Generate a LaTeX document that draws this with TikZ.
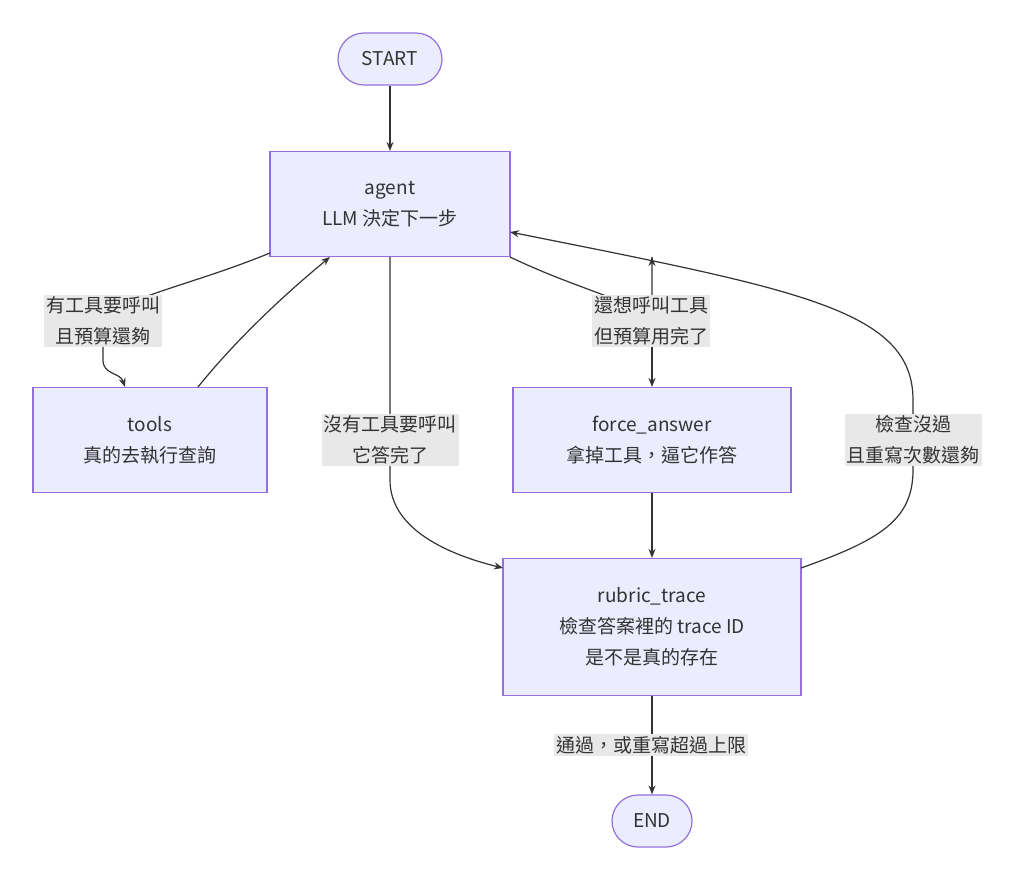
\documentclass[tikz,border=0pt]{standalone}
\usepackage{fontspec}
\setmainfont{Liberation Sans}
\newfontfamily\cjk{Noto Sans CJK TC}
\usetikzlibrary{arrows.meta}
\definecolor{nfill}{HTML}{ECECFF}
\definecolor{nline}{HTML}{9370DB}
\definecolor{ink}{HTML}{333333}
\definecolor{lbg}{HTML}{E8E8E8}
\begin{document}
\begin{tikzpicture}[x=1pt,y=-1pt,
  box/.style={draw=nline,fill=nfill,line width=1.2pt,text=ink,align=center,font=\cjk\fontsize{19}{31}\selectfont,inner sep=0pt},
  pill/.style={box,rounded corners=26pt},
  lab/.style={fill=lbg,text=ink,align=center,font=\cjk\fontsize{19}{31}\selectfont,inner sep=2pt},
  edge/.style={draw=ink,line width=1.2pt,-{Stealth[length=9pt,width=7pt]}}]
\useasboundingbox (0,0) rectangle (1024,890);
\node[pill,minimum width=104pt,minimum height=52pt] (start) at (390,59) {START};
\node[box,minimum width=240pt,minimum height=105pt] (agent) at (390,204) {agent\\LLM 決定下一步};
\node[box,minimum width=234pt,minimum height=105pt] (tools) at (150,440) {tools\\真的去執行查詢};
\node[box,minimum width=278pt,minimum height=105pt] (force) at (652,440) {force\_answer\\拿掉工具，逼它作答};
\node[box,minimum width=298pt,minimum height=137pt] (rubric) at (652,627) {rubric\_trace\\檢查答案裡的 trace ID\\是不是真的存在};
\node[pill,minimum width=80pt,minimum height=52pt] (end) at (652,821) {END};
\coordinate (c1) at (125,387);
\coordinate (c2) at (198,387);
\coordinate (c3) at (330,257);
\coordinate (c4) at (390,257);
\coordinate (c5) at (503,568);
\coordinate (c6) at (510,232);
\coordinate (c7) at (801,568);
\coordinate (c8) at (270,253);
\coordinate (c9) at (510,257);
\draw[edge] (start) -- (agent);
\draw[edge] (c8) .. controls (180,290) and (103,300) .. (103,330) -- (103,360) .. controls (103,375) and (120,372) .. (c1);
\draw[edge] (c2) .. controls (240,335) and (290,290) .. (c3);
\draw[edge] (c4) -- (390,480) .. controls (390,530) and (450,555) .. (c5);
\draw[edge] (c9) .. controls (600,300) and (652,300) .. (652,340) -- (c9 -| force.north) ++(0,0) ;
\draw[edge] (652,340) -- (652,365) .. controls (652,375) and (652,380) .. (force.north);
\draw[edge] (force) -- (rubric);
\draw[edge] (c7) .. controls (880,540) and (913,520) .. (913,470) -- (913,400) .. controls (913,310) and (800,290) .. (c6);
\draw[edge] (rubric) -- (end);
\node[lab] at (103,321) {有工具要呼叫\\且預算還夠};
\node[lab] at (651,321) {還想呼叫工具\\但預算用完了};
\node[lab] at (390,440) {沒有工具要呼叫\\它答完了};
\node[lab] at (913,440) {檢查沒過\\且重寫次數還夠};
\node[lab] at (651,745) {通過，或重寫超過上限};
\end{tikzpicture}
\end{document}
